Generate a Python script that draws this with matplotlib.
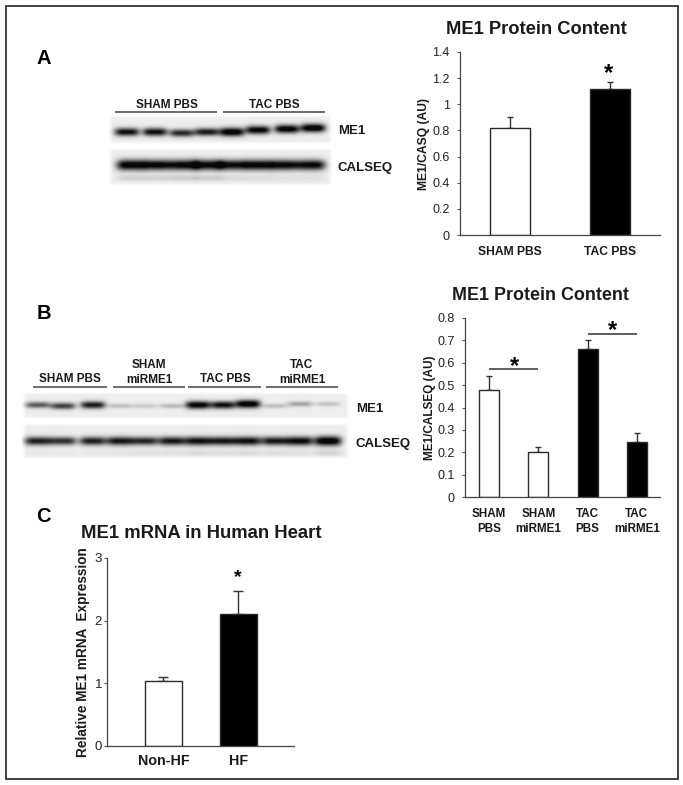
import numpy as np
import matplotlib
matplotlib.use("Agg")
import matplotlib.pyplot as plt
from matplotlib.patches import Rectangle

plt.rcParams['font.family'] = ['Liberation Sans', 'DejaVu Sans']

W, H = 683, 785

cats_a = ["SHAM PBS", "TAC PBS"]
vals_a = [0.82, 1.12]
errs_a = [0.08, 0.05]
ticks_a = [0, 0.2, 0.4, 0.6, 0.8, 1, 1.2, 1.4]

cats_b = ["SHAM\nPBS", "SHAM\nmiRME1", "TAC\nPBS", "TAC\nmiRME1"]
vals_b = [0.48, 0.20, 0.66, 0.245]
errs_b = [0.06, 0.025, 0.04, 0.04]
ticks_b = [0, 0.1, 0.2, 0.3, 0.4, 0.5, 0.6, 0.7, 0.8]

cats_c = ["Non-HF", "HF"]
vals_c = [1.04, 2.10]
errs_c = [0.06, 0.37]
ticks_c = [0, 1, 2, 3]

# blot band strengths per lane
blot_a_me1 = [0.85, 0.85, 0.75, 0.80, 0.98, 0.92, 0.95, 0.98]
blot_a_cal = [0.95, 0.92, 0.92, 0.90, 0.88, 0.92, 0.90, 0.90]
blot_a_cal_faint = [0.10, 0.10, 0.12, 0.12, 0.07, 0.06, 0.05, 0.05]
blot_b_me1 = [0.55, 0.65, 0.80, 0.18, 0.14, 0.20, 0.92, 0.85, 0.98, 0.18, 0.28, 0.16]
blot_b_cal = [0.78, 0.72, 0.78, 0.82, 0.76, 0.82, 0.85, 0.82, 0.85, 0.82, 0.88, 1.00]
blot_b_cal_faint = [0.02, 0.02, 0.02, 0.03, 0.05, 0.05, 0.07, 0.06, 0.07, 0.06, 0.05, 0.10]

fig = plt.figure(figsize=(W / 100, H / 100), dpi=100, facecolor='white')
bg = fig.add_axes([0, 0, 1, 1])
bg.set_xlim(0, W)
bg.set_ylim(H, 0)
bg.axis('off')
bg.add_patch(Rectangle((5.5, 5.5), 672, 773, fill=False, ec='#333333', lw=1.3))


def blot(box, centers, strengths, band_y, lane_w, band_h, tone=0.93,
         faint=None, faint_y=0):
    x0, x1, y0, y1 = box
    xs = np.arange(x0, x1) + 0.5
    ys = np.arange(y0, y1) + 0.5
    X, Y = np.meshgrid(xs, ys)
    edge = (np.clip(np.minimum(X - x0, x1 - X) / 5, 0, 1)
            * np.clip(np.minimum(Y - y0, y1 - Y) / 3, 0, 1))
    base = 1 - (1 - tone) * edge
    img = np.zeros(X.shape)
    for i, (c, s) in enumerate(zip(centers, strengths)):
        by = band_y[i] if np.ndim(band_y) else band_y
        dx = (X - c) / lane_w
        dy = (Y - by) / (band_h * (0.55 + 0.6 * s))
        img += s * np.exp(-dx ** 4) * np.exp(-dy ** 2)
    if faint is not None:
        for c, s in zip(centers, faint):
            img += s * np.exp(-((X - c) / lane_w) ** 4) * np.exp(-((Y - faint_y) / 3.0) ** 2)
    img = np.clip(base - 1.05 * img, 0.03, 1)
    bg.imshow(img, cmap='gray', vmin=0, vmax=1, extent=(x0, x1, y1, y0),
              aspect='auto', interpolation='bilinear', zorder=1)


lanes_a = [127, 155, 182, 207, 232, 258, 287, 313]
blot((108, 333, 115, 144), lanes_a, blot_a_me1,
     [132, 132, 133, 132, 132, 130, 129, 128], 12.5, 3.8)
lanes_a2 = [131, 157, 184, 208, 232, 258, 284, 311]
blot((108, 333, 148, 186), lanes_a2, blot_a_cal, 165, 14.5, 4.8,
     faint=blot_a_cal_faint, faint_y=178)
lanes_b = [38, 63, 93, 120, 145, 172, 198, 223, 248, 275, 300, 328]
blot((22, 350, 392, 419), lanes_b, blot_b_me1,
     [405, 406, 405, 406, 406, 406, 405, 405, 404, 406, 404, 404], 12.5, 3.6)
blot((22, 350, 423, 459), lanes_b, blot_b_cal, 441, 13.5, 4.2,
     faint=blot_b_cal_faint, faint_y=453)
bg.set_xlim(0, W)
bg.set_ylim(H, 0)

BOLD = dict(fontweight='bold', color='#1a1a1a')


def t(x, y, s, size=8.5, ha='center', va='center', **kw):
    bg.text(x, y + 1.5, s, fontsize=size, ha=ha, va=va, **{**BOLD, **kw}, zorder=5)


def rule(x0, x1, y, color='#444444', lw=1.1):
    bg.plot([x0, x1], [y, y], color=color, lw=lw, solid_capstyle='butt', zorder=5)


t(44, 57, "A", 14.5, color='black')
t(44, 312, "B", 14.5, color='black')
t(43, 515, "C", 14.5, color='black')

t(167, 103, "SHAM PBS")
t(274, 103, "TAC PBS")
rule(115, 217, 112)
rule(223, 325, 112)
t(338, 130, "ME1", 9.5, ha='left')
t(338, 167, "CALSEQ", 9.5, ha='left')

t(70, 378, "SHAM PBS")
t(149, 371, "SHAM\nmiRME1", linespacing=1.3)
t(225, 378, "TAC PBS")
t(302, 371, "TAC\nmiRME1", linespacing=1.3)
for a, b in [(33, 107), (113, 185), (188, 261), (266, 338)]:
    rule(a, b, 387)
t(356, 407, "ME1", 9.5, ha='left')
t(356, 442, "CALSEQ", 9.5, ha='left')


def chart(left, right, top, bottom, xlim, ylim, cats, vals, errs, ticks, colors,
          width, ylabel, ticklabels, label_x, catsize=8.7, ticksize=9, labsize=8.7,
          tickpad=5, capsize=2.5, catpad=8):
    ax = fig.add_axes([left / W, 1 - bottom / H, (right - left) / W, (bottom - top) / H])
    ax.patch.set_alpha(0)
    x = np.arange(len(vals))
    ax.bar(x, vals, width=width, color=colors, edgecolor='#2a2a2a', linewidth=1.0, zorder=2)
    ax.errorbar(x, vals, yerr=[np.zeros(len(errs)), errs], fmt='none', ecolor='#333333',
                elinewidth=1.0, capsize=capsize, capthick=1.0, zorder=1)
    ax.set_xlim(*xlim)
    ax.set_ylim(*ylim)
    ax.set_yticks(ticks)
    ax.set_yticklabels(ticklabels, fontsize=ticksize, color='#222222')
    ax.set_xticks(x)
    ax.set_xticklabels(cats, fontsize=catsize, fontweight='bold', color='#1a1a1a', linespacing=1.3)
    ax.tick_params(axis='x', length=0, pad=catpad)
    ax.tick_params(axis='y', length=2.5, width=0.8, color='#555555', pad=tickpad)
    for s in ('top', 'right'):
        ax.spines[s].set_visible(False)
    for s in ('left', 'bottom'):
        ax.spines[s].set_color('#444444')
        ax.spines[s].set_linewidth(0.9)
    ax.set_ylabel(ylabel, fontsize=labsize, fontweight='bold', color='#1a1a1a', va='center')
    ax.yaxis.set_label_coords((label_x - left) / (right - left), 0.5)
    return ax


chart(460, 660, 52, 235, (-0.5, 1.5), (0, 1.4), cats_a, vals_a, errs_a, ticks_a,
      ['white', 'black'], 0.4, "ME1/CASQ (AU)",
      ["0", "0.2", "0.4", "0.6", "0.8", "1", "1.2", "1.4"], 424)
chart(465, 660, 318, 497, (-0.49, 3.47), (0, 0.8), cats_b, vals_b, errs_b, ticks_b,
      ['white', 'white', 'black', 'black'], 0.41, "ME1/CALSEQ (AU)",
      ["0", "0.1", "0.2", "0.3", "0.4", "0.5", "0.6", "0.7", "0.8"], 430, catsize=8.4, labsize=8.5)
chart(107, 294, 558, 746, (-0.753, 1.74), (0, 3), cats_c, vals_c, errs_c, ticks_c,
      ['white', 'black'], 0.5, "Relative ME1 mRNA  Expression",
      ["0", "1", "2", "3"], 83, catsize=10.3, ticksize=9.5, labsize=9.8, tickpad=1,
      capsize=3.5, catpad=6)

t(536, 28, "ME1 Protein Content", 13.2)
t(540, 294, "ME1 Protein Content", 12.9)
t(201, 532, "ME1 mRNA in Human Heart", 13.3)

t(609, 72, "*", 17, color='black')
t(514, 365, "*", 17, color='black')
t(612, 329, "*", 17, color='black')
t(238, 576, "*", 14, color='black')
rule(489, 538, 369, '#333333')
rule(588, 637, 334, '#333333')

fig.savefig("out.png", dpi=100, facecolor='white')
